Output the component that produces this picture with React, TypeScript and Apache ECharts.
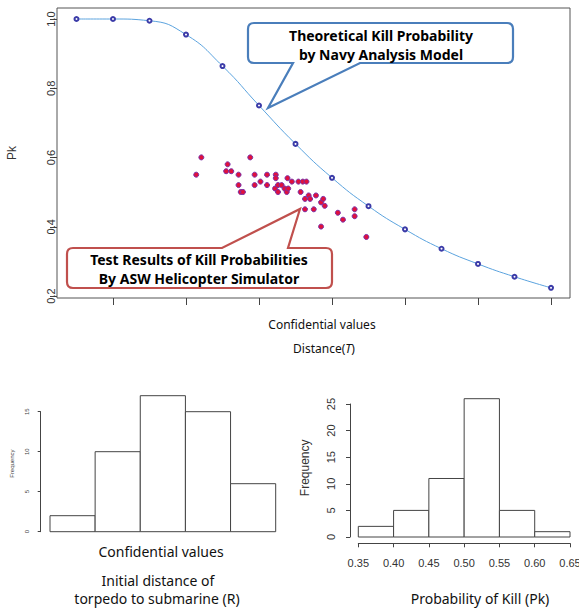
import React, { useEffect, useRef } from "react";
import * as echarts from "echarts";

// ---- Data ----
// Theoretical kill probability (Navy analysis model), distance in tick units
const theoryDist = [0.5, 1, 1.5, 2, 2.5, 3, 3.5, 4, 4.5, 5, 5.5, 6, 6.5, 7];
const theoryPk = [1.0, 1.0, 0.995, 0.955, 0.864, 0.75, 0.639, 0.541, 0.459, 0.392, 0.336, 0.292, 0.255, 0.223];

// Test results (ASW helicopter simulator)
const testDist = [2.21, 2.14, 2.57, 2.55, 2.62, 2.72, 2.72, 2.75, 2.78, 2.88, 2.94, 2.94, 3.02, 3.11, 3.11, 3.23, 3.23, 3.22, 3.26, 3.26, 3.31, 3.35, 3.38, 3.4, 3.39, 3.45, 3.54, 3.6, 3.65, 3.57, 3.63, 3.68, 3.7, 3.78, 3.63, 3.75, 3.85, 3.88, 3.9, 3.85, 4.08, 4.15, 4.31, 4.31, 4.47];
const testPk = [0.6, 0.55, 0.58, 0.56, 0.56, 0.55, 0.52, 0.5, 0.5, 0.6, 0.55, 0.52, 0.53, 0.55, 0.52, 0.55, 0.54, 0.51, 0.52, 0.5, 0.52, 0.51, 0.5, 0.51, 0.54, 0.53, 0.53, 0.53, 0.53, 0.5, 0.48, 0.49, 0.48, 0.49, 0.45, 0.45, 0.47, 0.48, 0.46, 0.4, 0.44, 0.42, 0.45, 0.43, 0.37];

// Histogram of initial distance (R), confidential bins
const rangeBinEdges = [0, 1, 2, 3, 4, 5];
const rangeCounts = [2, 10, 17, 15, 6];

// Histogram of Pk
const pkBinEdges = [0.35, 0.4, 0.45, 0.5, 0.55, 0.6, 0.65];
const pkCounts = [2, 5, 11, 26, 5, 1];

// Tick settings
const topXTicks = { min: 1, max: 7, interval: 1 };
const topYTicks = { min: 0.2, max: 1.0, interval: 0.2 };

// ---- Callout shapes ----
const blueCallout =
  "M254 23 H507 Q513 23 513 29 V57 Q513 63 507 63 H360 L268 108 L293 63 H254 Q248 63 248 57 V29 Q248 23 254 23 Z";
const redCallout =
  "M73 248 H222 L300 209 L288 248 H326 Q332 248 332 254 V282 Q332 288 326 288 H73 Q67 288 67 282 V254 Q67 248 73 248 Z";
echarts.graphic.registerShape("calloutBlue", echarts.graphic.extendPath(blueCallout, {}));
echarts.graphic.registerShape("calloutRed", echarts.graphic.extendPath(redCallout, {}));

const rFont = "'Liberation Sans', Arial, sans-serif";
const kFont = "'Noto Sans', 'Open Sans', sans-serif";

function histRender(params: any, api: any) {
  const p0 = api.coord([api.value(0), 0]);
  const p1 = api.coord([api.value(1), api.value(2)]);
  return {
    type: "rect",
    shape: { x: p0[0], y: p1[1], width: p1[0] - p0[0], height: p0[1] - p1[1] },
    style: { fill: "#ffffff", stroke: "#444", lineWidth: 1 },
  };
}

export default function App() {
  const ref = useRef<HTMLDivElement>(null);
  useEffect(() => {
    if (!ref.current) return;
    const chart = echarts.init(ref.current, null, { renderer: "svg" });
    const hidden = {
      axisLine: { show: false },
      axisTick: { show: false },
      axisLabel: { show: false },
      splitLine: { show: false },
    };
    const rangeData = rangeCounts.map((c, i) => [rangeBinEdges[i], rangeBinEdges[i + 1], c]);
    const pkData = pkCounts.map((c, i) => [pkBinEdges[i], pkBinEdges[i + 1], c]);
    const g = (o: any) => ({ outerBoundsMode: "none", containLabel: false, ...o });

    const option: any = {
      animation: false,
      backgroundColor: "#ffffff",
      grid: [
        g({ left: 57, top: 8, width: 513, height: 290, show: true, borderColor: "#555", borderWidth: 1, backgroundColor: "transparent" }),
        g({ left: 113, top: 21, width: 438, height: 277 }),
        g({ left: 50, top: 395.7, width: 225.7, height: 136 }),
        g({ left: 40.7, top: 411.7, width: 10, height: 120 }),
        g({ left: 358.3, top: 398.7, width: 211.7, height: 138.3 }),
        g({ left: 350, top: 404, width: 10, height: 133 }),
        g({ left: 358.3, top: 404, width: 211.7, height: 139.3 }),
        g({ left: 57, top: 19, width: 10, height: 277 }),
      ],
      xAxis: [
        { gridIndex: 0, type: "value", min: 0.233, max: 7.26, ...hidden },
        {
          gridIndex: 1, type: "value", ...topXTicks,
          axisLine: { show: false },
          axisTick: { show: true, length: 7, lineStyle: { color: "#444" } },
          axisLabel: { show: false }, splitLine: { show: false },
        },
        { gridIndex: 2, type: "value", min: 0, max: 5, ...hidden },
        { gridIndex: 3, type: "value", min: 0, max: 1, show: false },
        { gridIndex: 4, type: "value", min: 0.35, max: 0.65, ...hidden },
        { gridIndex: 5, type: "value", min: 0, max: 1, show: false },
        {
          gridIndex: 6, type: "value", min: 0.35, max: 0.65, interval: 0.05,
          axisLine: { show: true, lineStyle: { color: "#444" } },
          axisTick: { show: true, length: 4, lineStyle: { color: "#444" } },
          axisLabel: { show: true, fontSize: 11, color: "#333", fontFamily: rFont, margin: 14, hideOverlap: false, formatter: (v: number) => v.toFixed(2) },
          splitLine: { show: false },
        },
        { gridIndex: 7, type: "value", min: 0, max: 1, show: false },
      ],
      yAxis: [
        {
          gridIndex: 0, type: "value", min: 0.1936, max: 1.0318, ...hidden,
          name: "Pk", nameLocation: "middle", nameGap: 39,
          nameTextStyle: { fontSize: 12, color: "#333", fontFamily: rFont },
        },
        { gridIndex: 1, type: "value", min: 0, max: 1, show: false },
        {
          gridIndex: 2, type: "value", min: 0, max: 17, ...hidden,
          name: "Frequency", nameLocation: "middle", nameGap: 35,
          nameTextStyle: { fontSize: 6, color: "#444", fontFamily: rFont },
        },
        {
          gridIndex: 3, type: "value", min: 0, max: 15, interval: 5,
          axisLine: { show: true, lineStyle: { color: "#444" } },
          axisTick: { show: true, length: 3, lineStyle: { color: "#444" } },
          axisLabel: { show: true, rotate: 90, fontSize: 6, color: "#444", fontFamily: rFont, margin: 11 },
          splitLine: { show: false },
        },
        {
          gridIndex: 4, type: "value", min: 0, max: 26, ...hidden,
          name: "Frequency", nameLocation: "middle", nameGap: 47,
          nameTextStyle: { fontSize: 12, color: "#333", fontFamily: rFont },
        },
        {
          gridIndex: 5, type: "value", min: 0, max: 25, interval: 5,
          axisLine: { show: true, lineStyle: { color: "#444" } },
          axisTick: { show: true, length: 4, lineStyle: { color: "#444" } },
          axisLabel: { show: true, rotate: 90, fontSize: 11, color: "#333", fontFamily: rFont, margin: 14 },
          splitLine: { show: false },
        },
        { gridIndex: 6, type: "value", min: 0, max: 1, show: false },
        {
          gridIndex: 7, type: "value", ...topYTicks,
          axisLine: { show: false },
          axisTick: { show: true, length: 7, lineStyle: { color: "#444" } },
          axisLabel: { show: true, rotate: 90, fontSize: 11, color: "#333", fontFamily: rFont, margin: 1, formatter: (v: number) => v.toFixed(1) },
          splitLine: { show: false },
        },
      ],
      series: [
        {
          type: "line", xAxisIndex: 0, yAxisIndex: 0,
          data: theoryDist.map((d, i) => [d, theoryPk[i]]),
          smooth: true,
          symbol: "emptyCircle", symbolSize: 4,
          lineStyle: { color: "#5BA3DE", width: 1 },
          itemStyle: { color: "#3B3BA8", borderWidth: 1 },
          z: 3,
        },
        {
          type: "scatter", xAxisIndex: 0, yAxisIndex: 0,
          data: testDist.map((d, i) => [d, testPk[i]]),
          symbolSize: 5,
          itemStyle: { color: "#E0103C", borderColor: "#7A2FA8", borderWidth: 1, opacity: 1 },
          z: 4,
        },
        {
          type: "custom", xAxisIndex: 2, yAxisIndex: 2,
          data: rangeData, renderItem: histRender,
          encode: { x: [0, 1], y: 2 },
        },
        {
          type: "custom", xAxisIndex: 4, yAxisIndex: 4,
          data: pkData, renderItem: histRender,
          encode: { x: [0, 1], y: 2 },
        },
      ],
      graphic: [
        {
          type: "calloutBlue", x: 0, y: 0, z: 100,
          style: { fill: "#ffffff", stroke: "#4A7EBB", lineWidth: 2.2 },
        },
        {
          type: "calloutRed", x: 0, y: 0, z: 100,
          style: { fill: "#ffffff", stroke: "#C0504D", lineWidth: 2.2 },
        },
        {
          type: "text", x: 381, y: 35, z: 101,
          style: { text: "Theoretical Kill Probability", font: `bold 14px ${kFont}`, fill: "#000", textAlign: "center", textVerticalAlign: "middle" },
        },
        {
          type: "text", x: 381, y: 54, z: 101,
          style: { text: "by Navy Analysis Model", font: `bold 14px ${kFont}`, fill: "#000", textAlign: "center", textVerticalAlign: "middle" },
        },
        {
          type: "text", x: 199, y: 259, z: 101,
          style: { text: "Test Results of Kill Probabilities", font: `bold 14px ${kFont}`, fill: "#000", textAlign: "center", textVerticalAlign: "middle" },
        },
        {
          type: "text", x: 199, y: 278, z: 101,
          style: { text: "By ASW Helicopter Simulator", font: `bold 14px ${kFont}`, fill: "#000", textAlign: "center", textVerticalAlign: "middle" },
        },
        {
          type: "text", x: 322, y: 324, z: 101,
          style: { text: "Confidential values", font: `12px ${kFont}`, fill: "#111", textAlign: "center", textVerticalAlign: "middle" },
        },
        {
          type: "text", x: 324, y: 348, z: 101,
          style: {
            text: "Distance({i|T})", font: `12px ${kFont}`, fill: "#111", textAlign: "center", textVerticalAlign: "middle",
            rich: { i: { fontStyle: "italic", fontSize: 12, fontFamily: kFont, fill: "#111" } },
          },
        },
        {
          type: "text", x: 161, y: 551, z: 101,
          style: { text: "Confidential values", font: `14px ${kFont}`, fill: "#111", textAlign: "center", textVerticalAlign: "middle" },
        },
        {
          type: "text", x: 158, y: 580, z: 101,
          style: { text: "Initial distance of", font: `14px ${kFont}`, fill: "#111", textAlign: "center", textVerticalAlign: "middle" },
        },
        {
          type: "text", x: 157, y: 598, z: 101,
          style: { text: "torpedo to submarine (R)", font: `14px ${kFont}`, fill: "#111", textAlign: "center", textVerticalAlign: "middle" },
        },
        {
          type: "text", x: 480, y: 598, z: 101,
          style: { text: "Probability of Kill (Pk)", font: `14px ${kFont}`, fill: "#111", textAlign: "center", textVerticalAlign: "middle" },
        },
      ],
    };
    chart.setOption(option);
    return () => chart.dispose();
  }, []);
  return <div ref={ref} style={{ position: "absolute", left: 0, top: 0, width: 579, height: 609 }} />;
}
